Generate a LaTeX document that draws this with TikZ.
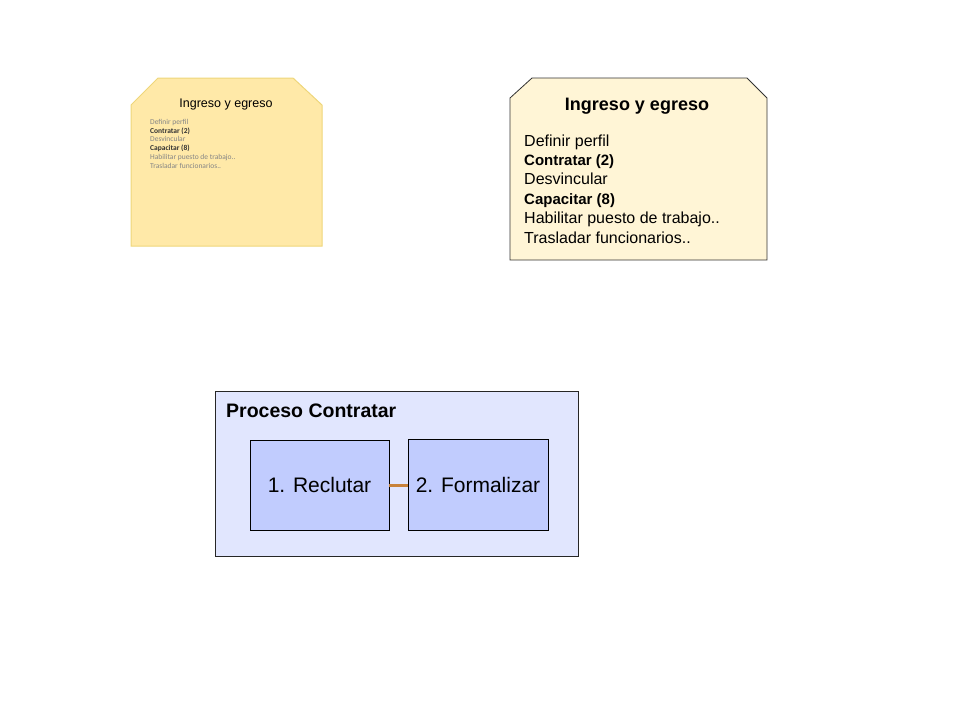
\documentclass[tikz,border=0pt]{standalone}
\usepackage{fontspec}
\setmainfont{Liberation Sans}
\newfontfamily\calfont{Carlito}
\definecolor{ylwfill}{HTML}{FFE9A8}
\definecolor{ylwdraw}{HTML}{EED67A}
\definecolor{creamfill}{HTML}{FFF5D6}
\definecolor{frameblue}{HTML}{E1E6FE}
\definecolor{boxblue}{HTML}{C1CCFE}
\definecolor{linkbrown}{HTML}{C8823A}
\definecolor{lightgray}{HTML}{858585}
\begin{document}
\begin{tikzpicture}[x=1pt,y=-1pt,
  fs/.style 2 args={font=\fontsize{#1}{#2}\selectfont},
  listline/.style={anchor=base west,inner sep=0pt,font=\fontsize{16}{18}\selectfont},
  listbold/.style={anchor=base west,inner sep=0pt,font=\fontsize{15}{17}\selectfont\bfseries},
  smallline/.style={anchor=base west,inner sep=0pt,font=\calfont\fontsize{7.5}{9}\selectfont,text=lightgray},
  smallbold/.style={anchor=base west,inner sep=0pt,font=\calfont\fontsize{7.5}{9}\selectfont\bfseries,text=black!80},
  stepbox/.style={draw=black,fill=boxblue,minimum width=139pt,minimum height=90pt,inner sep=0pt,font=\fontsize{21}{24}\selectfont},
]
\useasboundingbox (0,0) rectangle (960,720);
% left yellow note
\draw[draw=ylwdraw,fill=ylwfill,line width=1pt] (158,78) -- (293,78) -- (322,105) -- (322,246) -- (131,246) -- (131,105) -- cycle;
\node[anchor=base,inner sep=0pt,font=\fontsize{12.5}{14}\selectfont] (lt) at (226,107) {Ingreso y egreso};
\node[smallline] (l1) at (150,124) {Definir perfil};
\node[smallbold] (l2) at (150,133) {Contratar (2)};
\node[smallline] (l3) at (150,141.5) {Desvincular};
\node[smallbold] (l4) at (150,150) {Capacitar (8)};
\node[smallline] (l5) at (150,159) {Habilitar puesto de trabajo..};
\node[smallline] (l6) at (150,168) {Trasladar funcionarios..};
% right cream note
\draw[draw=black!80,fill=creamfill,line width=0.8pt] (532,78) -- (747,78) -- (767,98) -- (767,260) -- (510,260) -- (510,98) -- cycle;
\node[anchor=base,inner sep=0pt,font=\fontsize{18}{20}\selectfont\bfseries] (rt) at (637,110) {Ingreso y egreso};
\node[listline] (r1) at (524,146) {Definir perfil};
\node[listbold] (r2) at (524,165) {Contratar (2)};
\node[listline] (r3) at (524,184) {Desvincular};
\node[listbold] (r4) at (524,204) {Capacitar (8)};
\node[listline] (r5) at (524,223) {Habilitar puesto de trabajo..};
\node[listline] (r6) at (524,243) {Trasladar funcionarios..};
% bottom process frame
\node[draw=black!85,fill=frameblue,line width=0.8pt,minimum width=363pt,minimum height=165pt,inner sep=0pt] (frame) at (396.5,473.5) {};
\node[anchor=base west,inner sep=0pt,font=\fontsize{19.5}{22}\selectfont\bfseries] (ptitle) at (226,417) {Proceso Contratar};
\node[stepbox] (s1) at (319.5,485) {1. Reclutar};
\node[stepbox,minimum width=140pt,minimum height=91pt] (s2) at (478,484.5) {2. Formalizar};
\draw[linkbrown,line width=3pt] (s1.east) -- (s1.east -| s2.west);
\end{tikzpicture}
\end{document}
